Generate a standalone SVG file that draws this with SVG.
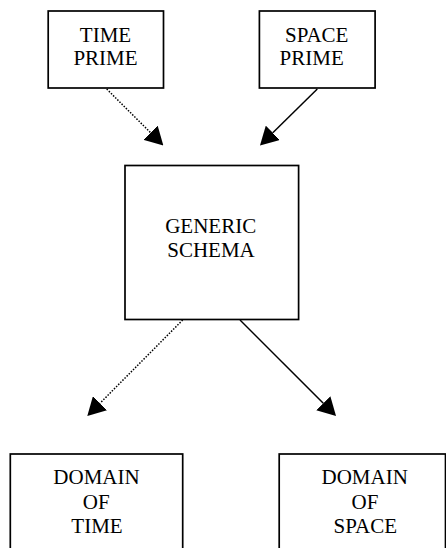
<svg xmlns="http://www.w3.org/2000/svg" width="446" height="548" viewBox="0 0 446 548">
  <style>
    .box { fill: #ffffff; stroke: #000000; stroke-width: 1.7; }
    .label { font-family: "Liberation Serif", "Times New Roman", serif; font-size: 21px; fill: #000000; text-anchor: middle; }
    .link { stroke: #000000; stroke-width: 1.5; fill: none; }
    .dotted { stroke-dasharray: 1.5 1.5; }
  </style>
  <defs>
    <marker id="head" markerUnits="userSpaceOnUse" viewBox="0 0 18 20" markerWidth="18" markerHeight="20" refX="0" refY="10" orient="auto">
      <path d="M0,0 L18,10 L0,20 Z" fill="#000000"/>
    </marker>
  </defs>
  <rect width="446" height="548" fill="#ffffff"/>

  <g id="time-prime">
    <rect class="box" x="48.2" y="11" width="115.3" height="77"/>
    <text class="label" x="105.5" y="41.7">TIME</text>
    <text class="label" x="105.5" y="65">PRIME</text>
  </g>

  <g id="space-prime">
    <rect class="box" x="259.4" y="11" width="115.7" height="77"/>
    <text class="label" x="316.7" y="42.3">SPACE</text>
    <text class="label" x="311.7" y="65">PRIME</text>
  </g>

  <g id="generic-schema">
    <rect class="box" x="125" y="165.5" width="173.6" height="154"/>
    <text class="label" x="210.7" y="233.3">GENERIC</text>
    <text class="label" x="211" y="256.7">SCHEMA</text>
  </g>

  <g id="domain-of-time">
    <rect class="box" x="10.3" y="454" width="172.4" height="120"/>
    <text class="label" x="96.5" y="484">DOMAIN</text>
    <text class="label" x="96.2" y="509">OF</text>
    <text class="label" x="97" y="533">TIME</text>
  </g>

  <g id="domain-of-space">
    <rect class="box" x="279.2" y="454" width="166.3" height="120"/>
    <text class="label" x="364.7" y="484">DOMAIN</text>
    <text class="label" x="365" y="509">OF</text>
    <text class="label" x="365.3" y="533">SPACE</text>
  </g>

  <g id="connectors">
    <line class="link dotted" x1="106.7" y1="89" x2="150.6" y2="132.7" marker-end="url(#head)"/>
    <line class="link" x1="317.3" y1="89" x2="272.8" y2="132.8" marker-end="url(#head)"/>
    <line class="link dotted" x1="182.7" y1="320" x2="100" y2="403.2" marker-end="url(#head)"/>
    <line class="link" x1="240" y1="320" x2="323.3" y2="403.3" marker-end="url(#head)"/>
  </g>
</svg>
